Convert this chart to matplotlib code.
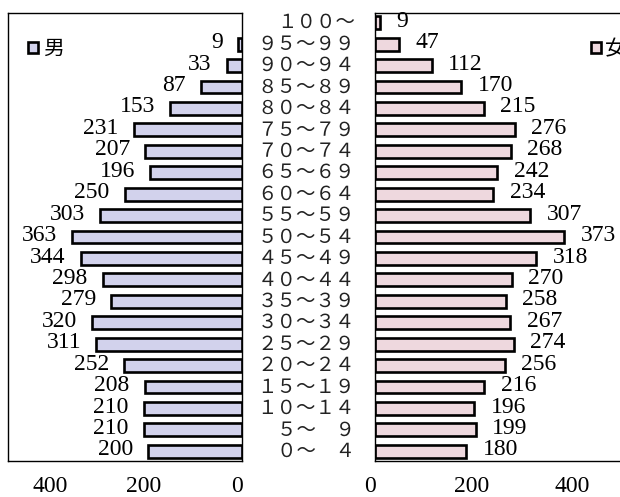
import matplotlib
matplotlib.use("Agg")
import matplotlib.pyplot as plt
from matplotlib.transforms import blended_transform_factory, ScaledTranslation


# age groups, bottom to top
ages = ['０～　４', '５～　９', '１０～１４', '１５～１９', '２０～２４', '２５～２９',
        '３０～３４', '３５～３９', '４０～４４', '４５～４９', '５０～５４', '５５～５９',
        '６０～６４', '６５～６９', '７０～７４', '７５～７９', '８０～８４', '８５～８９',
        '９０～９４', '９５～９９', '１００～']

male = [200, 210, 210, 208, 252, 311, 320, 279, 298, 344, 363,
        303, 250, 196, 207, 231, 153, 87, 33, 9, 0]
female = [180, 199, 196, 216, 256, 274, 267, 258, 270, 318, 373,
          307, 234, 242, 268, 276, 215, 170, 112, 47, 9]

xticks = [0, 200, 400]

num_font = 'Liberation Serif'
cjk_font = ['Noto Sans CJK JP', 'DejaVu Sans']

W, H = 620, 497
fig = plt.figure(figsize=(W / 100, H / 100), dpi=100)

bottom = 36 / H
height = 448 / H
ax_m = fig.add_axes([8 / W, bottom, 234 / W, height])
ax_f = fig.add_axes([375 / W, bottom, 253 / W, height])

y = list(range(len(ages)))

# empty groups get no outline
ax_m.barh(y, male, height=0.6, color='#d2d2ec',
          edgecolor=['black' if v else 'none' for v in male],
          linewidth=1.9, label='男')
ax_f.barh(y, female, height=0.6, color='#eed8de',
          edgecolor=['black' if v else 'none' for v in female],
          linewidth=1.9, label='女')

ax_m.set_xlim(500, 0)
ax_f.set_xlim(0, 500)

for ax in (ax_m, ax_f):
    ax.set_ylim(-0.45, len(ages) - 0.55)
    ax.set_yticks([])
    ax.set_xticks(xticks)
    ax.tick_params(axis='x', length=0, pad=11)
    for s in ax.spines.values():
        s.set_linewidth(1.0)
    # tick labels in the original sit a bit left of the tick
    shift = ScaledTranslation(-5 / 100, 0, fig.dpi_scale_trans)
    for lab in ax.get_xticklabels():
        lab.set_fontfamily(num_font)
        lab.set_fontsize(17)
        lab.set_transform(lab.get_transform() + shift)

# value labels
for i, v in enumerate(male):
    if v:
        ax_m.annotate(str(v), (v, i), xytext=(-11, 1), textcoords='offset points',
                      ha='right', va='center', fontsize=17, family=num_font)
for i, v in enumerate(female):
    if v:
        ax_f.annotate(str(v), (v, i), xytext=(12, 1), textcoords='offset points',
                      ha='left', va='center', fontsize=17, family=num_font)

# age labels between the two panels
trans = blended_transform_factory(fig.transFigure, ax_f.transData)
for i, a in enumerate(ages):
    ax_f.text(355 / W, i, a, transform=trans, ha='right', va='center',
              fontsize=14, family=cjk_font, color='#222222')

# legends (the right one runs off the edge, as in the original)
leg_kw = dict(loc='center left', frameon=False, handlelength=0.5,
              handleheight=0.5, handletextpad=0.2, borderaxespad=0,
              prop={'family': cjk_font, 'size': 15})
ax_m.legend(bbox_to_anchor=(0.05, 0.92), **leg_kw)
ax_f.legend(bbox_to_anchor=(0.82, 0.92), **leg_kw)

fig.savefig('out.png', dpi=100)
